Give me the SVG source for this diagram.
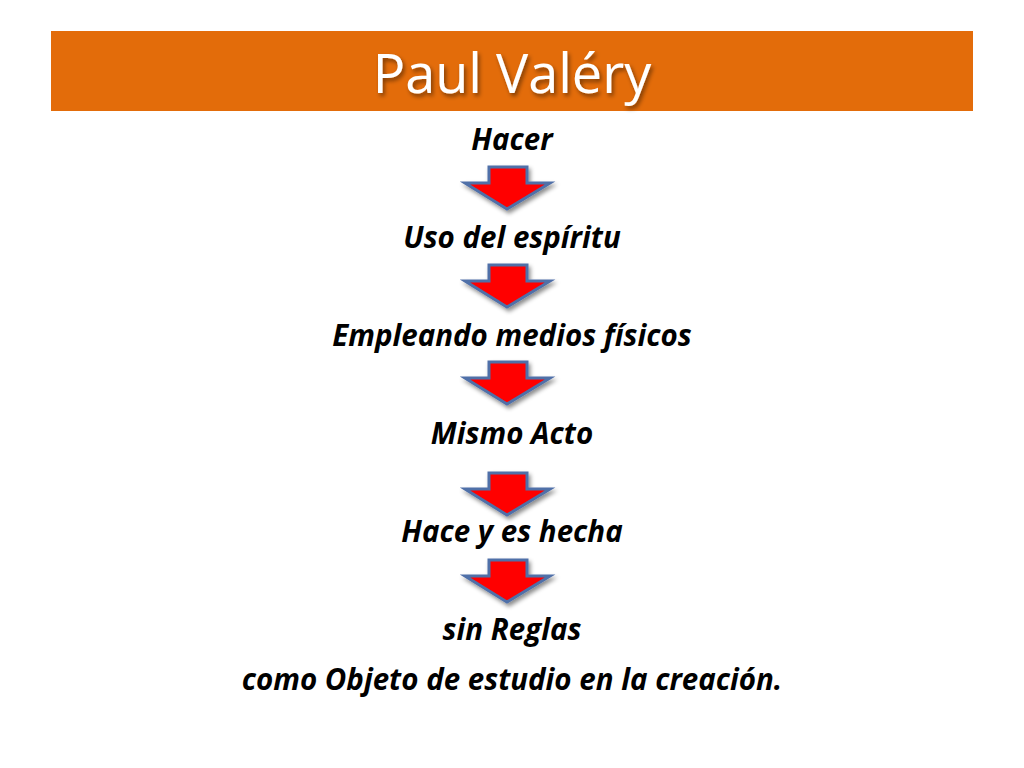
<svg xmlns="http://www.w3.org/2000/svg" width="1024" height="768" viewBox="0 0 1024 768">
<defs>
<style>
.t{font-family:"Open Sans","Liberation Sans",sans-serif;font-weight:bold;font-style:italic;font-size:29.5px;fill:#000;text-anchor:middle}
.ar{fill:#FF0000;stroke:#4F6FA8;stroke-width:3;stroke-linejoin:miter}
</style>
<filter id="sh" x="-20%" y="-20%" width="150%" height="150%">
<feDropShadow dx="2" dy="3" stdDeviation="2" flood-color="#000" flood-opacity="0.45"/>
</filter>
<path id="arrow" d="M-18,0 H20 V16 H43 L0,42 L-42,16 H-18 Z"/>
</defs>
<rect width="1024" height="768" fill="#fff"/>
<g id="title">
<rect x="51" y="31" width="922" height="80" fill="#E36C0A"/>
<text x="512" y="93" style="font-family:'Open Sans','Liberation Sans',sans-serif;font-size:54px;fill:#fff;text-anchor:middle" filter="url(#sh)">Paul Valéry</text>
</g>
<g id="n1"><text class="t" x="512" y="150">Hacer</text></g>
<g id="n2"><text class="t" x="512" y="248">Uso del espíritu</text></g>
<g id="n3"><text class="t" x="512" y="346">Empleando medios físicos</text></g>
<g id="n4"><text class="t" x="512" y="444">Mismo Acto</text></g>
<g id="n5"><text class="t" x="512" y="542">Hace y es hecha</text></g>
<g id="n6"><text class="t" x="512" y="640">sin Reglas</text><text class="t" x="512" y="690">como Objeto de estudio en la creación.</text></g>
<g id="connectors" filter="url(#sh)">
<use href="#arrow" class="ar" transform="translate(507,167)"/>
<use href="#arrow" class="ar" transform="translate(507,265)"/>
<use href="#arrow" class="ar" transform="translate(507,362)"/>
<use href="#arrow" class="ar" transform="translate(507,473)"/>
<use href="#arrow" class="ar" transform="translate(507,560)"/>
</g>
</svg>
